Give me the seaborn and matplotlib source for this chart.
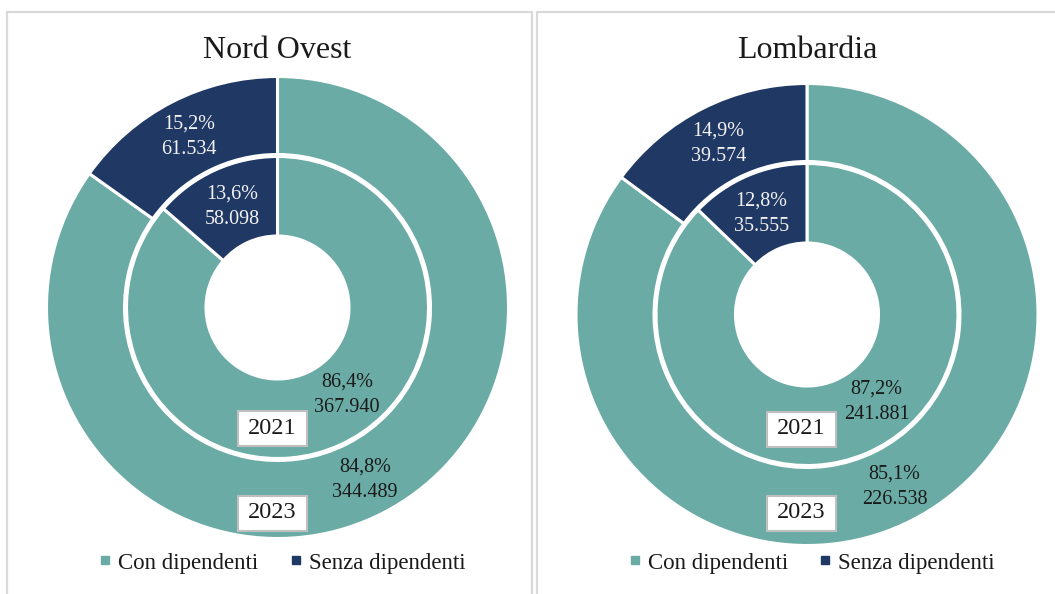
import matplotlib
matplotlib.use("Agg")
import matplotlib.pyplot as plt
import seaborn as sns
from matplotlib.lines import Line2D
from matplotlib.patches import Rectangle

# data
regions = ["Nord Ovest", "Lombardia"]
categories = ["Con dipendenti", "Senza dipendenti"]
years = ["2021", "2023"]
nordovest_2021 = [367940, 58098]
nordovest_2023 = [344489, 61534]
lombardia_2021 = [241881, 35555]
lombardia_2023 = [226538, 39574]

sns.set_theme(style="white")
plt.rcParams["font.family"] = ["Liberation Serif", "DejaVu Serif"]
colors = ["#6aaba5", "#203864"]
text_colors = ["#1a1a1a", "#f2f2f2"]

W, H = 1055, 594
fig = plt.figure(figsize=(W / 100, H / 100), dpi=100)

# panel borders
for x0, x1 in [(7, 532), (537, 1070)]:
    fig.patches.append(Rectangle((x0 / W, -0.05), (x1 - x0) / W, (H - 12) / H + 0.05,
                                 transform=fig.transFigure, fill=False,
                                 ec="#d9d9d9", lw=1.6))


def fmt_pct(v):
    return f"{v:.1f}%".replace(".", ",")


def fmt_num(v):
    return f"{v:,}".replace(",", ".")


R_out, R_mid, R_in = 231, 151, 71.5
# label offsets (px from centre): [outer teal, outer navy], [inner teal, inner navy]
outer_pos = [(87.5, -172), (-88.5, 171)]
inner_pos = [(69.5, -87.5), (-45.5, 100.5)]

panels = [
    (regions[0], nordovest_2021, nordovest_2023, 277.5, 307.5),
    (regions[1], lombardia_2021, lombardia_2023, 807, 314.5),
]

for name, v21, v23, cx, cy in panels:
    S = 520
    ax = fig.add_axes([(cx - S / 2) / W, (H - cy - S / 2) / H, S / W, S / H])
    ax.set_aspect("equal")
    ax.axis("off")
    ax.pie(v23, radius=R_out, colors=colors, startangle=90, counterclock=False,
           wedgeprops=dict(width=R_out - R_mid - 2, edgecolor="white", linewidth=2.2))
    ax.pie(v21, radius=R_mid, colors=colors, startangle=90, counterclock=False,
           wedgeprops=dict(width=R_mid - R_in, edgecolor="white", linewidth=2.2))
    ax.set_xlim(-S / 2, S / 2)
    ax.set_ylim(-S / 2, S / 2)

    for vals, pos in [(v23, outer_pos), (v21, inner_pos)]:
        tot = sum(vals)
        for i, v in enumerate(vals):
            ax.text(pos[i][0], pos[i][1], f"{fmt_pct(100 * v / tot)}\n{fmt_num(v)}",
                    ha="center", va="center", fontsize=14.5, color=text_colors[i],
                    linespacing=1.45)

    # year boxes (fixed figure y)
    for yr, fy in zip(years, [429, 513]):
        dx = -5.5
        dy = cy - fy
        ax.add_patch(Rectangle((dx - 34.5, dy - 17.5), 69, 35, fc="white",
                               ec="#bfbfbf", lw=1.5, zorder=5))
        ax.text(dx, dy, yr, ha="center", va="center", fontsize=17.5,
                color="#1a1a1a", zorder=6)

    fig.text(cx / W, 1 - 51 / H, name, ha="center", va="center", fontsize=23,
             color="#1a1a1a")

    handles = [Line2D([], [], marker="s", ls="none", color=c, markersize=5.5)
               for c in colors]
    fig.legend(handles, categories, loc="center", ncol=2,
               bbox_to_anchor=((cx + 2) / W, 1 - 563 / H), frameon=False,
               fontsize=16.5, handletextpad=0.05, columnspacing=1.15,
               handlelength=1.0, labelcolor="#1a1a1a")

fig.savefig("out.png", dpi=100, facecolor="white")
